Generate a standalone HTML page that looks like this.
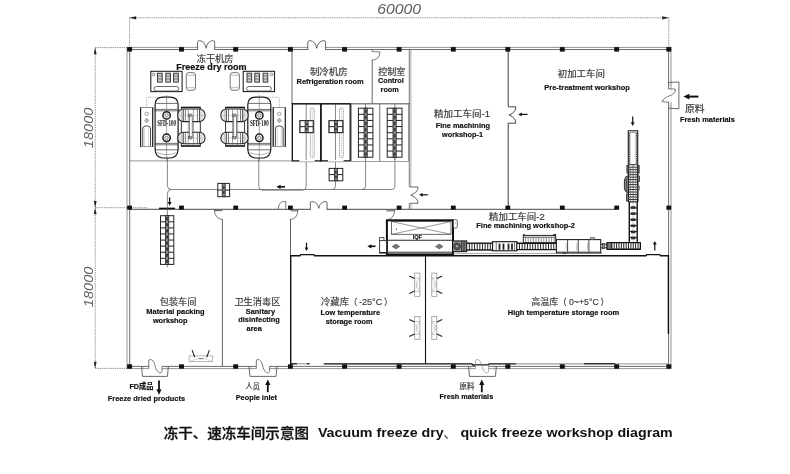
<!DOCTYPE html>
<html lang="zh">
<head>
<meta charset="utf-8">
<title>冻干、速冻车间示意图 Vacuum freeze dry、quick freeze workshop diagram</title>
<style>
html,body{margin:0;padding:0;background:#fff;}
body{width:790px;height:474px;overflow:hidden;}
svg{display:block;will-change:transform;font-family:"Liberation Sans","Noto Sans CJK SC",sans-serif;}
</style>
</head>
<body>
<svg width="790" height="474" viewBox="0 0 790 474">
<rect x="0" y="0" width="790" height="474" fill="#fff"/>
<line x1="129.6" y1="17.8" x2="668.8" y2="17.8" stroke="#6a6a6a" stroke-width="0.7" stroke-dasharray="1.4 0.8"/>
<line x1="129.6" y1="17.8" x2="129.6" y2="47" stroke="#6a6a6a" stroke-width="0.7" stroke-dasharray="1.4 0.8"/>
<line x1="668.8" y1="17.8" x2="668.8" y2="47" stroke="#6a6a6a" stroke-width="0.7" stroke-dasharray="1.4 0.8"/>
<path d="M129.6 17.8 L136.2 16.2 L136.2 19.4 Z" stroke="none" stroke-width="0" fill="#222" />
<path d="M668.8 17.8 L662.2 16.2 L662.2 19.4 Z" stroke="none" stroke-width="0" fill="#222" />
<line x1="95.2" y1="47.6" x2="95.2" y2="368.4" stroke="#6a6a6a" stroke-width="0.7" stroke-dasharray="1.4 0.8"/>
<line x1="95.2" y1="47.6" x2="127" y2="47.6" stroke="#6a6a6a" stroke-width="0.7" stroke-dasharray="1.4 0.8"/>
<line x1="95.2" y1="207.7" x2="147.7" y2="207.7" stroke="#6a6a6a" stroke-width="0.7" stroke-dasharray="1.4 0.8"/>
<line x1="95.2" y1="368.4" x2="127" y2="368.4" stroke="#6a6a6a" stroke-width="0.7" stroke-dasharray="1.4 0.8"/>
<path d="M95.2 47.6 L93.8 54.2 L96.6 54.2 Z" stroke="none" stroke-width="0" fill="#222" />
<path d="M95.2 207.7 L93.8 201.1 L96.6 201.1 Z" stroke="none" stroke-width="0" fill="#222" />
<path d="M95.2 207.7 L93.8 214.29999999999998 L96.6 214.29999999999998 Z" stroke="none" stroke-width="0" fill="#222" />
<path d="M95.2 368.4 L93.8 361.79999999999995 L96.6 361.79999999999995 Z" stroke="none" stroke-width="0" fill="#222" />
<text x="377.2" y="14.04" font-size="14" font-style="italic" fill="#606060" textLength="43.8" lengthAdjust="spacingAndGlyphs" >60000</text>
<text transform="translate(92.6 148.2) rotate(-90)" font-size="13.5" font-style="italic" fill="#606060" textLength="40.6" lengthAdjust="spacingAndGlyphs">18000</text>
<text transform="translate(92.6 307.2) rotate(-90)" font-size="13.5" font-style="italic" fill="#606060" textLength="40.6" lengthAdjust="spacingAndGlyphs">18000</text>
<line x1="127" y1="47.4" x2="671.2" y2="47.4" stroke="#7a7a7a" stroke-width="0.8" />
<line x1="129.6" y1="49.5" x2="668.5" y2="49.5" stroke="#484848" stroke-width="0.8" />
<line x1="127" y1="47.4" x2="127" y2="368.6" stroke="#7a7a7a" stroke-width="0.8" />
<line x1="129.7" y1="49.5" x2="129.7" y2="366.5" stroke="#484848" stroke-width="0.8" />
<line x1="668.6" y1="49.5" x2="668.6" y2="366.5" stroke="#484848" stroke-width="0.8" />
<line x1="671" y1="47.4" x2="671" y2="368.6" stroke="#7a7a7a" stroke-width="0.8" />
<line x1="127" y1="368.6" x2="671" y2="368.6" stroke="#7a7a7a" stroke-width="0.8" />
<line x1="129.7" y1="366.4" x2="668.6" y2="366.4" stroke="#484848" stroke-width="0.8" />
<line x1="129.7" y1="209.3" x2="616.7" y2="209.3" stroke="#333" stroke-width="0.9" />
<line x1="129.8" y1="160.9" x2="292.3" y2="160.9" stroke="#666" stroke-width="0.7" />
<line x1="292" y1="49.5" x2="292" y2="104" stroke="#3c3c3c" stroke-width="0.8" />
<line x1="372.2" y1="60" x2="372.2" y2="103.8" stroke="#3c3c3c" stroke-width="0.8" />
<line x1="292" y1="103.8" x2="410" y2="103.8" stroke="#3c3c3c" stroke-width="0.8" />
<line x1="409.3" y1="49.5" x2="409.3" y2="187" stroke="#3c3c3c" stroke-width="0.7" />
<line x1="410.9" y1="49.5" x2="410.9" y2="187" stroke="#777" stroke-width="0.6" />
<line x1="409.3" y1="203.3" x2="409.3" y2="209.3" stroke="#3c3c3c" stroke-width="0.7" />
<line x1="410.9" y1="203.3" x2="410.9" y2="209.3" stroke="#777" stroke-width="0.6" />
<line x1="508.2" y1="49.5" x2="508.2" y2="106.8" stroke="#3c3c3c" stroke-width="1.0" />
<line x1="508.2" y1="123.2" x2="508.2" y2="209.3" stroke="#3c3c3c" stroke-width="1.0" />
<line x1="222.4" y1="219" x2="222.4" y2="366.4" stroke="#3c3c3c" stroke-width="0.8" />
<line x1="290.5" y1="219" x2="290.5" y2="256" stroke="#3c3c3c" stroke-width="0.8" />
<path d="M290.7 366.4 L290.7 255.7 L300 255.7 L300.8 254.6 L313.8 254.6 L314.6 255.7 L646 255.7 L646.8 254.6 L659.8 254.6 L660.6 255.7 L668.4 255.7 L668.4 334" stroke="#111" stroke-width="1.4" fill="none" />
<line x1="425.5" y1="255.7" x2="425.5" y2="364" stroke="#111" stroke-width="1.1" />
<line x1="290.7" y1="363.8" x2="297" y2="363.8" stroke="#111" stroke-width="1.3" />
<line x1="297" y1="363.8" x2="307" y2="363.8" stroke="#999" stroke-width="1.1" />
<line x1="307" y1="363.8" x2="309.6" y2="363.8" stroke="#111" stroke-width="1.3" />
<path d="M323.7 363.8 L471.8 363.8 L473 365 L488.2 365 L489.4 363.8 L516 363.8" stroke="#111" stroke-width="1.3" fill="none" />
<line x1="516" y1="363.9" x2="584" y2="363.9" stroke="#777" stroke-width="0.9" />
<line x1="584" y1="363.8" x2="615.5" y2="363.8" stroke="#111" stroke-width="1.3" />
<line x1="615.5" y1="363.9" x2="668" y2="363.9" stroke="#777" stroke-width="0.8" />
<rect x="127.15" y="47.1" width="4.9" height="4.5" rx="0" stroke="none" stroke-width="0" fill="#111" />
<rect x="127.15" y="364.3" width="4.9" height="4.4" rx="0" stroke="none" stroke-width="0" fill="#111" />
<rect x="179.05" y="47.1" width="4.9" height="4.5" rx="0" stroke="none" stroke-width="0" fill="#111" />
<rect x="179.05" y="364.3" width="4.9" height="4.4" rx="0" stroke="none" stroke-width="0" fill="#111" />
<rect x="233.25" y="47.1" width="4.9" height="4.5" rx="0" stroke="none" stroke-width="0" fill="#111" />
<rect x="233.25" y="364.3" width="4.9" height="4.4" rx="0" stroke="none" stroke-width="0" fill="#111" />
<rect x="287.95" y="47.1" width="4.9" height="4.5" rx="0" stroke="none" stroke-width="0" fill="#111" />
<rect x="287.95" y="364.3" width="4.9" height="4.4" rx="0" stroke="none" stroke-width="0" fill="#111" />
<rect x="342.15" y="47.1" width="4.9" height="4.5" rx="0" stroke="none" stroke-width="0" fill="#111" />
<rect x="342.15" y="364.3" width="4.9" height="4.4" rx="0" stroke="none" stroke-width="0" fill="#111" />
<rect x="396.65" y="47.1" width="4.9" height="4.5" rx="0" stroke="none" stroke-width="0" fill="#111" />
<rect x="396.65" y="364.3" width="4.9" height="4.4" rx="0" stroke="none" stroke-width="0" fill="#111" />
<rect x="450.85" y="47.1" width="4.9" height="4.5" rx="0" stroke="none" stroke-width="0" fill="#111" />
<rect x="450.85" y="364.3" width="4.9" height="4.4" rx="0" stroke="none" stroke-width="0" fill="#111" />
<rect x="505.35" y="47.1" width="4.9" height="4.5" rx="0" stroke="none" stroke-width="0" fill="#111" />
<rect x="505.35" y="364.3" width="4.9" height="4.4" rx="0" stroke="none" stroke-width="0" fill="#111" />
<rect x="559.85" y="47.1" width="4.9" height="4.5" rx="0" stroke="none" stroke-width="0" fill="#111" />
<rect x="559.85" y="364.3" width="4.9" height="4.4" rx="0" stroke="none" stroke-width="0" fill="#111" />
<rect x="614.25" y="47.1" width="4.9" height="4.5" rx="0" stroke="none" stroke-width="0" fill="#111" />
<rect x="614.25" y="364.3" width="4.9" height="4.4" rx="0" stroke="none" stroke-width="0" fill="#111" />
<rect x="666.35" y="47.1" width="4.9" height="4.5" rx="0" stroke="none" stroke-width="0" fill="#111" />
<rect x="666.35" y="364.3" width="4.9" height="4.4" rx="0" stroke="none" stroke-width="0" fill="#111" />
<rect x="127.2" y="205.6" width="4.8" height="4.1" rx="0" stroke="none" stroke-width="0" fill="#111" />
<rect x="179.1" y="205.6" width="4.8" height="4.1" rx="0" stroke="none" stroke-width="0" fill="#111" />
<rect x="233.3" y="205.6" width="4.8" height="4.1" rx="0" stroke="none" stroke-width="0" fill="#111" />
<rect x="288" y="205.6" width="4.8" height="4.1" rx="0" stroke="none" stroke-width="0" fill="#111" />
<rect x="342.2" y="205.6" width="4.8" height="4.1" rx="0" stroke="none" stroke-width="0" fill="#111" />
<rect x="396.7" y="205.6" width="4.8" height="4.1" rx="0" stroke="none" stroke-width="0" fill="#111" />
<rect x="450.9" y="205.6" width="4.8" height="4.1" rx="0" stroke="none" stroke-width="0" fill="#111" />
<rect x="505.4" y="205.6" width="4.8" height="4.1" rx="0" stroke="none" stroke-width="0" fill="#111" />
<rect x="559.9" y="205.6" width="4.8" height="4.1" rx="0" stroke="none" stroke-width="0" fill="#111" />
<rect x="614.3" y="205.6" width="4.8" height="4.1" rx="0" stroke="none" stroke-width="0" fill="#111" />
<rect x="666.4" y="205.6" width="4.8" height="4.1" rx="0" stroke="none" stroke-width="0" fill="#111" />
<rect x="197.9" y="46.6" width="16.5" height="3.9" fill="#fff"/>
<path d="M197.6 49.7 L197.6 42.1 Q197.6 40.6 199.6 40.6 Q204.95 41.2 206.15 48.3 Q207.35 41.2 212.7 40.6 Q214.7 40.6 214.7 42.1 L214.7 49.7" stroke="#444" stroke-width="0.8" fill="none" />
<rect x="308.1" y="46.6" width="17.2" height="3.9" fill="#fff"/>
<path d="M307.8 49.7 L307.8 42.1 Q307.8 40.6 309.8 40.6 Q315.5 41.2 316.7 48.3 Q317.9 41.2 323.6 40.6 Q325.6 40.6 325.6 42.1 L325.6 49.7" stroke="#444" stroke-width="0.8" fill="none" />
<rect x="310.6" y="206.6" width="16.2" height="3.9" fill="#fff"/>
<path d="M310.3 209.7 L310.3 203 Q310.3 201.5 312.3 201.5 Q317.5 202.1 318.7 208.3 Q319.9 202.1 325.1 201.5 Q327.1 201.5 327.1 203 L327.1 209.7" stroke="#444" stroke-width="0.8" fill="none" />
<rect x="148.7" y="365.6" width="13.3" height="3.8" fill="#fff"/>
<path d="M141.5 366.4 L142.5 376.4 L167.4 376.4 L168.4 366.4" stroke="#444" stroke-width="0.8" fill="none" />
<line x1="143.5" y1="366.4" x2="143.8" y2="369.5" stroke="#888" stroke-width="0.5" />
<line x1="166.4" y1="366.4" x2="166.1" y2="369.5" stroke="#888" stroke-width="0.5" />
<path d="M148.7 368.6 L148.7 361 Q148.7 359.4 150.4 359.5 C154.7 360.2 154.7 366 156.1 369 C157.7 372.6 160 373.6 161.2 372.6 Q162 372 162 370.5 L162 366.4" stroke="#444" stroke-width="0.7" fill="none" />
<rect x="256.3" y="365.6" width="13.3" height="3.8" fill="#fff"/>
<path d="M249 366.4 L250 376.4 L276 376.4 L277 366.4" stroke="#444" stroke-width="0.8" fill="none" />
<line x1="251" y1="366.4" x2="251.3" y2="369.5" stroke="#888" stroke-width="0.5" />
<line x1="275" y1="366.4" x2="274.7" y2="369.5" stroke="#888" stroke-width="0.5" />
<path d="M256.3 368.6 L256.3 361 Q256.3 359.4 258 359.5 C262.3 360.2 262.3 366 263.7 369 C265.3 372.6 267.6 373.6 268.8 372.6 Q269.6 372 269.6 370.5 L269.6 366.4" stroke="#444" stroke-width="0.7" fill="none" />
<rect x="475.6" y="365.6" width="13" height="3.8" fill="#fff"/>
<path d="M468.5 366.4 L469.5 376.4 L495.4 376.4 L496.4 366.4" stroke="#444" stroke-width="0.8" fill="none" />
<line x1="470.5" y1="366.4" x2="470.8" y2="369.5" stroke="#888" stroke-width="0.5" />
<line x1="494.4" y1="366.4" x2="494.1" y2="369.5" stroke="#888" stroke-width="0.5" />
<path d="M475.6 368.6 L475.6 361 Q475.6 359.4 477.3 359.5 C481.6 360.2 481.6 366 483 369 C484.6 372.6 486.6 373.6 487.8 372.6 Q488.6 372 488.6 370.5 L488.6 366.4" stroke="#888" stroke-width="0.7" fill="none" />
<rect x="667.6" y="89" width="4.2" height="13" fill="#fff"/>
<path d="M668.6 82.4 L678.9 82 L678.9 108.8 L668.6 108.2" stroke="#444" stroke-width="0.8" fill="none" />
<line x1="668.6" y1="84.6" x2="671.4" y2="84.8" stroke="#888" stroke-width="0.5" />
<line x1="668.6" y1="106" x2="671.4" y2="105.8" stroke="#888" stroke-width="0.5" />
<path d="M668.6 89 L675.4 89 Q676.4 92.6 671.5 95 Q663 98 662 101.7 L668.6 102.2" stroke="#444" stroke-width="0.7" fill="none" />
<path d="M508.2 106.8 L515.8 106.8 Q516.1 112 509.2 115 Q516.1 118 515.8 123.2 L508.2 123.2" stroke="#444" stroke-width="1.0" fill="none" />
<path d="M409.8 187 L418 187 Q418.3 192.15 410.8 195.15 Q418.3 198.15 418 203.3 L409.8 203.3" stroke="#444" stroke-width="0.8" fill="none" />
<line x1="214.4" y1="210.6" x2="222.4" y2="210.6" stroke="#666" stroke-width="1.1" />
<path d="M214.4 209.3 Q214.6 219 222.4 219.4" stroke="#444" stroke-width="0.7" fill="none" />
<path d="M278.2 209.3 Q278.6 201.8 284 201.5 L285.8 201.5 L285.8 209.3" stroke="#444" stroke-width="0.7" fill="none" />
<line x1="290.5" y1="210.8" x2="298" y2="210.8" stroke="#666" stroke-width="1.1" />
<path d="M298 209.3 Q297.8 219 290.5 219.4" stroke="#444" stroke-width="0.7" fill="none" />
<line x1="386.3" y1="210.8" x2="394.8" y2="210.8" stroke="#666" stroke-width="1.1" />
<path d="M394.8 209.3 Q394.6 217.5 388.3 219.6" stroke="#444" stroke-width="0.7" fill="none" />
<path d="M372.2 60 Q379.6 59.8 380 52 L372.6 51.6" stroke="#444" stroke-width="0.7" fill="none" />
<line x1="372.2" y1="49.5" x2="372.2" y2="52" stroke="#444" stroke-width="0.7" />
<line x1="159" y1="208.4" x2="175.1" y2="208.4" stroke="#111" stroke-width="1.5" />
<line x1="527.6" y1="114.4" x2="521.3" y2="114.4" stroke="#111" stroke-width="1.2" />
<path d="M518.2 114.4 L521.8 112.5 L521.8 116.3 Z" stroke="none" stroke-width="0" fill="#111" />
<line x1="427.8" y1="194.8" x2="422.1" y2="194.8" stroke="#111" stroke-width="1.2" />
<path d="M419 194.8 L422.6 192.9 L422.6 196.7 Z" stroke="none" stroke-width="0" fill="#111" />
<line x1="285" y1="186.8" x2="280.1" y2="186.8" stroke="#111" stroke-width="1.6" />
<path d="M276.4 186.8 L280.6 184.7 L280.6 188.9 Z" stroke="none" stroke-width="0" fill="#111" />
<line x1="169.6" y1="197.4" x2="169.6" y2="202.5" stroke="#111" stroke-width="1.3" />
<path d="M169.6 205.8 L167.6 202 L171.6 202 Z" stroke="none" stroke-width="0" fill="#111" />
<line x1="306.5" y1="242.7" x2="306.5" y2="247.9" stroke="#111" stroke-width="1.2" />
<path d="M306.5 251 L304.6 247.4 L308.4 247.4 Z" stroke="none" stroke-width="0" fill="#111" />
<line x1="632.7" y1="116.6" x2="632.7" y2="122.8" stroke="#111" stroke-width="1.2" />
<path d="M632.7 125.9 L630.8 122.3 L634.6 122.3 Z" stroke="none" stroke-width="0" fill="#111" />
<line x1="654.8" y1="250.4" x2="654.8" y2="244.1" stroke="#111" stroke-width="1.2" />
<path d="M654.8 241 L656.7 244.6 L652.9 244.6 Z" stroke="none" stroke-width="0" fill="#111" />
<line x1="375.5" y1="246.3" x2="371" y2="246.3" stroke="#111" stroke-width="1.6" />
<path d="M367.3 246.3 L371.5 244.2 L371.5 248.4 Z" stroke="none" stroke-width="0" fill="#111" />
<line x1="698.4" y1="96.6" x2="688.9" y2="96.6" stroke="#111" stroke-width="2.0" />
<path d="M683.4 96.6 L689.4 93.7 L689.4 99.5 Z" stroke="none" stroke-width="0" fill="#111" />
<line x1="159" y1="380.6" x2="159" y2="389.7" stroke="#111" stroke-width="1.8" />
<path d="M159 394.8 L156.4 389.2 L161.6 389.2 Z" stroke="none" stroke-width="0" fill="#111" />
<line x1="267.8" y1="392.2" x2="267.8" y2="384.5" stroke="#111" stroke-width="1.8" />
<path d="M267.8 379.4 L270.4 385 L265.2 385 Z" stroke="none" stroke-width="0" fill="#111" />
<line x1="481.8" y1="392.2" x2="481.8" y2="384.5" stroke="#111" stroke-width="1.8" />
<path d="M481.8 379.4 L484.4 385 L479.2 385 Z" stroke="none" stroke-width="0" fill="#111" />
<path d="M167.4 157 L167.4 185.6 Q167.4 189.5 171.4 189.5 L392 189.5 Q394.9 189.5 394.9 186 L394.9 157.2" stroke="#555" stroke-width="0.7" fill="none" />
<path d="M171.4 189.5 Q167.4 189.5 167.4 193.4 L167.4 267.3" stroke="#555" stroke-width="0.7" fill="none" />
<path d="M258.8 157 L258.8 186.4 Q258.8 190.2 262.6 190.2 L302.4 190.2 Q306.2 190.2 306.2 186.4 L306.2 104" stroke="#555" stroke-width="0.7" fill="none" />
<path d="M335.5 104 L335.5 186 Q335.5 189.5 332 189.5" stroke="#555" stroke-width="0.7" fill="none" />
<path d="M365.6 104 L365.6 186 Q365.6 189.5 362 189.5" stroke="#555" stroke-width="0.7" fill="none" />
<line x1="394.9" y1="104" x2="394.9" y2="160" stroke="#555" stroke-width="0.7" />
<rect x="217.8" y="183.4" width="11.8" height="13.3" rx="0" stroke="#222" stroke-width="1.0" fill="#fff" />
<line x1="217.8" y1="190.05" x2="229.6" y2="190.05" stroke="#222" stroke-width="1.0" />
<rect x="222.2" y="183.4" width="3" height="13.3" rx="0" stroke="#222" stroke-width="0.8" fill="#8a8a8a" />
<rect x="222.9" y="186.45" width="1.6" height="2.4" rx="0" stroke="none" stroke-width="0" fill="#333" />
<rect x="222.9" y="191.25" width="1.6" height="2.4" rx="0" stroke="none" stroke-width="0" fill="#333" />
<rect x="329.1" y="168.4" width="13.7" height="12.4" rx="0" stroke="#222" stroke-width="1.0" fill="#fff" />
<line x1="329.1" y1="174.6" x2="342.8" y2="174.6" stroke="#222" stroke-width="1.0" />
<rect x="334.45" y="168.4" width="3" height="12.4" rx="0" stroke="#222" stroke-width="0.8" fill="#8a8a8a" />
<rect x="335.15" y="171" width="1.6" height="2.4" rx="0" stroke="none" stroke-width="0" fill="#333" />
<rect x="335.15" y="175.8" width="1.6" height="2.4" rx="0" stroke="none" stroke-width="0" fill="#333" />
<rect x="300" y="120.7" width="13.2" height="11.9" rx="0" stroke="#222" stroke-width="1.0" fill="#fff" />
<line x1="300" y1="126.65" x2="313.2" y2="126.65" stroke="#222" stroke-width="1.0" />
<rect x="305.1" y="120.7" width="3" height="11.9" rx="0" stroke="#222" stroke-width="0.8" fill="#8a8a8a" />
<rect x="305.8" y="123.05" width="1.6" height="2.4" rx="0" stroke="none" stroke-width="0" fill="#333" />
<rect x="305.8" y="127.85" width="1.6" height="2.4" rx="0" stroke="none" stroke-width="0" fill="#333" />
<rect x="329.1" y="120.7" width="13.7" height="11.9" rx="0" stroke="#222" stroke-width="1.0" fill="#fff" />
<line x1="329.1" y1="126.65" x2="342.8" y2="126.65" stroke="#222" stroke-width="1.0" />
<rect x="334.45" y="120.7" width="3" height="11.9" rx="0" stroke="#222" stroke-width="0.8" fill="#8a8a8a" />
<rect x="335.15" y="123.05" width="1.6" height="2.4" rx="0" stroke="none" stroke-width="0" fill="#333" />
<rect x="335.15" y="127.85" width="1.6" height="2.4" rx="0" stroke="none" stroke-width="0" fill="#333" />
<rect x="160.5" y="215.7" width="13.3" height="48.7" rx="0" stroke="#222" stroke-width="1.0" fill="#fff" />
<line x1="160.5" y1="221.79" x2="173.8" y2="221.79" stroke="#222" stroke-width="1.0" />
<line x1="160.5" y1="227.88" x2="173.8" y2="227.88" stroke="#222" stroke-width="1.0" />
<line x1="160.5" y1="233.96" x2="173.8" y2="233.96" stroke="#222" stroke-width="1.0" />
<line x1="160.5" y1="240.05" x2="173.8" y2="240.05" stroke="#222" stroke-width="1.0" />
<line x1="160.5" y1="246.14" x2="173.8" y2="246.14" stroke="#222" stroke-width="1.0" />
<line x1="160.5" y1="252.22" x2="173.8" y2="252.22" stroke="#222" stroke-width="1.0" />
<line x1="160.5" y1="258.31" x2="173.8" y2="258.31" stroke="#222" stroke-width="1.0" />
<rect x="165.55" y="215.7" width="3.2" height="48.7" rx="0" stroke="#222" stroke-width="0.8" fill="#8a8a8a" />
<rect x="166.25" y="217.2" width="1.8" height="3.09" rx="0" stroke="none" stroke-width="0" fill="#333" />
<rect x="166.25" y="223.29" width="1.8" height="3.09" rx="0" stroke="none" stroke-width="0" fill="#333" />
<rect x="166.25" y="229.38" width="1.8" height="3.09" rx="0" stroke="none" stroke-width="0" fill="#333" />
<rect x="166.25" y="235.46" width="1.8" height="3.09" rx="0" stroke="none" stroke-width="0" fill="#333" />
<rect x="166.25" y="241.55" width="1.8" height="3.09" rx="0" stroke="none" stroke-width="0" fill="#333" />
<rect x="166.25" y="247.64" width="1.8" height="3.09" rx="0" stroke="none" stroke-width="0" fill="#333" />
<rect x="166.25" y="253.72" width="1.8" height="3.09" rx="0" stroke="none" stroke-width="0" fill="#333" />
<rect x="166.25" y="259.81" width="1.8" height="3.09" rx="0" stroke="none" stroke-width="0" fill="#333" />
<rect x="358.4" y="108.2" width="14.5" height="49" rx="0" stroke="#222" stroke-width="1.0" fill="#fff" />
<line x1="358.4" y1="114.33" x2="372.9" y2="114.33" stroke="#222" stroke-width="1.0" />
<line x1="358.4" y1="120.45" x2="372.9" y2="120.45" stroke="#222" stroke-width="1.0" />
<line x1="358.4" y1="126.57" x2="372.9" y2="126.57" stroke="#222" stroke-width="1.0" />
<line x1="358.4" y1="132.7" x2="372.9" y2="132.7" stroke="#222" stroke-width="1.0" />
<line x1="358.4" y1="138.82" x2="372.9" y2="138.82" stroke="#222" stroke-width="1.0" />
<line x1="358.4" y1="144.95" x2="372.9" y2="144.95" stroke="#222" stroke-width="1.0" />
<line x1="358.4" y1="151.07" x2="372.9" y2="151.07" stroke="#222" stroke-width="1.0" />
<rect x="364.05" y="108.2" width="3.2" height="49" rx="0" stroke="#222" stroke-width="0.8" fill="#8a8a8a" />
<rect x="364.75" y="109.7" width="1.8" height="3.12" rx="0" stroke="none" stroke-width="0" fill="#333" />
<rect x="364.75" y="115.83" width="1.8" height="3.12" rx="0" stroke="none" stroke-width="0" fill="#333" />
<rect x="364.75" y="121.95" width="1.8" height="3.12" rx="0" stroke="none" stroke-width="0" fill="#333" />
<rect x="364.75" y="128.07" width="1.8" height="3.12" rx="0" stroke="none" stroke-width="0" fill="#333" />
<rect x="364.75" y="134.2" width="1.8" height="3.12" rx="0" stroke="none" stroke-width="0" fill="#333" />
<rect x="364.75" y="140.32" width="1.8" height="3.12" rx="0" stroke="none" stroke-width="0" fill="#333" />
<rect x="364.75" y="146.45" width="1.8" height="3.12" rx="0" stroke="none" stroke-width="0" fill="#333" />
<rect x="364.75" y="152.57" width="1.8" height="3.12" rx="0" stroke="none" stroke-width="0" fill="#333" />
<rect x="387.2" y="108.2" width="14.8" height="49" rx="0" stroke="#222" stroke-width="1.0" fill="#fff" />
<line x1="387.2" y1="114.33" x2="402" y2="114.33" stroke="#222" stroke-width="1.0" />
<line x1="387.2" y1="120.45" x2="402" y2="120.45" stroke="#222" stroke-width="1.0" />
<line x1="387.2" y1="126.57" x2="402" y2="126.57" stroke="#222" stroke-width="1.0" />
<line x1="387.2" y1="132.7" x2="402" y2="132.7" stroke="#222" stroke-width="1.0" />
<line x1="387.2" y1="138.82" x2="402" y2="138.82" stroke="#222" stroke-width="1.0" />
<line x1="387.2" y1="144.95" x2="402" y2="144.95" stroke="#222" stroke-width="1.0" />
<line x1="387.2" y1="151.07" x2="402" y2="151.07" stroke="#222" stroke-width="1.0" />
<rect x="393" y="108.2" width="3.2" height="49" rx="0" stroke="#222" stroke-width="0.8" fill="#8a8a8a" />
<rect x="393.7" y="109.7" width="1.8" height="3.12" rx="0" stroke="none" stroke-width="0" fill="#333" />
<rect x="393.7" y="115.83" width="1.8" height="3.12" rx="0" stroke="none" stroke-width="0" fill="#333" />
<rect x="393.7" y="121.95" width="1.8" height="3.12" rx="0" stroke="none" stroke-width="0" fill="#333" />
<rect x="393.7" y="128.07" width="1.8" height="3.12" rx="0" stroke="none" stroke-width="0" fill="#333" />
<rect x="393.7" y="134.2" width="1.8" height="3.12" rx="0" stroke="none" stroke-width="0" fill="#333" />
<rect x="393.7" y="140.32" width="1.8" height="3.12" rx="0" stroke="none" stroke-width="0" fill="#333" />
<rect x="393.7" y="146.45" width="1.8" height="3.12" rx="0" stroke="none" stroke-width="0" fill="#333" />
<rect x="393.7" y="152.57" width="1.8" height="3.12" rx="0" stroke="none" stroke-width="0" fill="#333" />
<rect x="292.3" y="103.8" width="28.6" height="57.1" rx="0" stroke="#111" stroke-width="1.3" fill="none" />
<rect x="320.9" y="103.8" width="29.3" height="57.1" rx="0" stroke="#111" stroke-width="1.3" fill="none" />
<rect x="299.4" y="160" width="15.2" height="2" fill="#fff"/>
<rect x="328" y="160" width="15.6" height="2" fill="#fff"/>
<line x1="299.4" y1="161.8" x2="314.6" y2="161.8" stroke="#777" stroke-width="0.6" />
<line x1="328" y1="161.8" x2="343.6" y2="161.8" stroke="#777" stroke-width="0.6" />
<rect x="310.4" y="108.2" width="3.9" height="49.4" rx="1" stroke="#666" stroke-width="0.7" fill="none" stroke-dasharray="1 0.7"/>
<line x1="312.35" y1="108.2" x2="312.35" y2="157.6" stroke="#aaa" stroke-width="0.4" />
<rect x="339.5" y="108.2" width="3.9" height="49.4" rx="1" stroke="#666" stroke-width="0.7" fill="none" stroke-dasharray="1 0.7"/>
<line x1="341.45" y1="108.2" x2="341.45" y2="157.6" stroke="#aaa" stroke-width="0.4" />
<rect x="300" y="120.7" width="13.2" height="11.9" rx="0" stroke="#222" stroke-width="1.0" fill="#fff" />
<line x1="300" y1="126.65" x2="313.2" y2="126.65" stroke="#222" stroke-width="1.0" />
<rect x="305.1" y="120.7" width="3" height="11.9" rx="0" stroke="#222" stroke-width="0.8" fill="#8a8a8a" />
<rect x="305.8" y="123.05" width="1.6" height="2.4" rx="0" stroke="none" stroke-width="0" fill="#333" />
<rect x="305.8" y="127.85" width="1.6" height="2.4" rx="0" stroke="none" stroke-width="0" fill="#333" />
<rect x="329.1" y="120.7" width="13.7" height="11.9" rx="0" stroke="#222" stroke-width="1.0" fill="#fff" />
<line x1="329.1" y1="126.65" x2="342.8" y2="126.65" stroke="#222" stroke-width="1.0" />
<rect x="334.45" y="120.7" width="3" height="11.9" rx="0" stroke="#222" stroke-width="0.8" fill="#8a8a8a" />
<rect x="335.15" y="123.05" width="1.6" height="2.4" rx="0" stroke="none" stroke-width="0" fill="#333" />
<rect x="335.15" y="127.85" width="1.6" height="2.4" rx="0" stroke="none" stroke-width="0" fill="#333" />
<rect x="351.5" y="103.8" width="28.3" height="57.6" rx="0" stroke="#777" stroke-width="0.7" fill="none" />
<rect x="379.8" y="103.8" width="28.8" height="57.6" rx="0" stroke="#777" stroke-width="0.7" fill="none" />
<rect x="150.8" y="71.3" width="31.3" height="20.3" rx="0" stroke="#222" stroke-width="1.1" fill="none" />
<circle cx="153.7" cy="74.5" r="1.4" stroke="#444" stroke-width="0.6" fill="none"/>
<rect x="157.5" y="73.2" width="4.7" height="8.9" rx="0" stroke="#2a2a2a" stroke-width="0.9" fill="#ccc" />
<line x1="157.5" y1="76" x2="162.2" y2="76" stroke="#444" stroke-width="0.6" />
<line x1="157.5" y1="79" x2="162.2" y2="79" stroke="#444" stroke-width="0.6" />
<rect x="165.8" y="73.2" width="4.7" height="8.9" rx="0" stroke="#2a2a2a" stroke-width="0.9" fill="#ccc" />
<line x1="165.8" y1="76" x2="170.5" y2="76" stroke="#444" stroke-width="0.6" />
<line x1="165.8" y1="79" x2="170.5" y2="79" stroke="#444" stroke-width="0.6" />
<rect x="173.6" y="73.2" width="4.7" height="8.9" rx="0" stroke="#2a2a2a" stroke-width="0.9" fill="#ccc" />
<line x1="173.6" y1="76" x2="178.3" y2="76" stroke="#444" stroke-width="0.6" />
<line x1="173.6" y1="79" x2="178.3" y2="79" stroke="#444" stroke-width="0.6" />
<rect x="154" y="86.5" width="24.7" height="4.5" rx="2.2" stroke="#444" stroke-width="0.8" fill="none" />
<rect x="243.2" y="71.3" width="31.3" height="20.3" rx="0" stroke="#222" stroke-width="1.1" fill="none" />
<circle cx="271.6" cy="74.5" r="1.4" stroke="#444" stroke-width="0.6" fill="none"/>
<rect x="263.1" y="73.2" width="4.7" height="8.9" rx="0" stroke="#2a2a2a" stroke-width="0.9" fill="#ccc" />
<line x1="267.8" y1="76" x2="263.1" y2="76" stroke="#444" stroke-width="0.6" />
<line x1="267.8" y1="79" x2="263.1" y2="79" stroke="#444" stroke-width="0.6" />
<rect x="254.8" y="73.2" width="4.7" height="8.9" rx="0" stroke="#2a2a2a" stroke-width="0.9" fill="#ccc" />
<line x1="259.5" y1="76" x2="254.8" y2="76" stroke="#444" stroke-width="0.6" />
<line x1="259.5" y1="79" x2="254.8" y2="79" stroke="#444" stroke-width="0.6" />
<rect x="247" y="73.2" width="4.7" height="8.9" rx="0" stroke="#2a2a2a" stroke-width="0.9" fill="#ccc" />
<line x1="251.7" y1="76" x2="247" y2="76" stroke="#444" stroke-width="0.6" />
<line x1="251.7" y1="79" x2="247" y2="79" stroke="#444" stroke-width="0.6" />
<rect x="246.6" y="86.5" width="24.7" height="4.5" rx="2.2" stroke="#444" stroke-width="0.8" fill="none" />
<rect x="186.3" y="72.6" width="9.2" height="17.7" rx="2.6" stroke="#555" stroke-width="0.8" fill="none" />
<line x1="186.3" y1="75.2" x2="195.5" y2="75.2" stroke="#777" stroke-width="0.5" />
<line x1="186.3" y1="87.7" x2="195.5" y2="87.7" stroke="#777" stroke-width="0.5" />
<rect x="230.2" y="72.6" width="9.2" height="17.7" rx="2.6" stroke="#555" stroke-width="0.8" fill="none" />
<line x1="230.2" y1="75.2" x2="239.4" y2="75.2" stroke="#777" stroke-width="0.5" />
<line x1="230.2" y1="87.7" x2="239.4" y2="87.7" stroke="#777" stroke-width="0.5" />
<path d="M155.1 146 L155.1 105 Q155.1 97.2 163.1 97.2 L170.1 97.2 Q178.1 97.2 178.1 105 L178.1 149.5 Q177.6 157 171.1 158 L162.1 158 Q155.6 157 155.1 149.5 Z" stroke="#1a1a1a" stroke-width="1.2" fill="#fff" />
<path d="M156.6 152.6 Q166.6 156.6 176.6 152.6" stroke="#666" stroke-width="0.5" fill="none" />
<line x1="155.1" y1="103.4" x2="178.1" y2="103.4" stroke="#333" stroke-width="0.7" />
<line x1="155.1" y1="143.4" x2="178.1" y2="143.4" stroke="#333" stroke-width="0.7" />
<line x1="155.1" y1="144.8" x2="178.1" y2="144.8" stroke="#333" stroke-width="0.7" />
<line x1="155.1" y1="149.8" x2="178.1" y2="149.8" stroke="#333" stroke-width="0.7" />
<line x1="154.5" y1="109.4" x2="178.7" y2="109.4" stroke="#333" stroke-width="0.7" />
<line x1="154.5" y1="110.8" x2="178.7" y2="110.8" stroke="#333" stroke-width="0.7" />
<line x1="166.6" y1="95" x2="166.6" y2="160.9" stroke="#555" stroke-width="0.5" />
<circle cx="166.6" cy="115.4" r="3.7" stroke="#1a1a1a" stroke-width="1.5" fill="#fff"/>
<circle cx="166.6" cy="115.4" r="1.7" stroke="#444" stroke-width="0.6" fill="#eee"/>
<circle cx="166.6" cy="137.8" r="3.7" stroke="#1a1a1a" stroke-width="1.5" fill="#fff"/>
<circle cx="166.6" cy="137.8" r="1.7" stroke="#444" stroke-width="0.6" fill="#eee"/>
<text x="157.2" y="125.6" font-size="7.2" font-weight="bold" font-family="Liberation Serif,serif" fill="#111" textLength="18.8" lengthAdjust="spacingAndGlyphs">SFD-100</text>
<rect x="140.6" y="107.6" width="12.1" height="39.1" rx="0" stroke="#666" stroke-width="0.7" fill="none" />
<line x1="140.6" y1="107.6" x2="140.6" y2="146.7" stroke="#222" stroke-width="1.2" />
<line x1="152.7" y1="107.6" x2="152.7" y2="146.7" stroke="#222" stroke-width="1.2" />
<circle cx="146.65" cy="113.9" r="1.7" stroke="#666" stroke-width="0.6" fill="none"/>
<path d="M146.65 118 L148.65 120.4 L146.65 122.8 L144.65 120.4 Z" stroke="#666" stroke-width="0.5" fill="#bbb" />
<path d="M142.75 146 L142.75 129 Q142.75 126 145.65 126 L147.65 126 Q150.55 126 150.55 129 L150.55 146" stroke="#333" stroke-width="0.9" fill="none" />
<line x1="144.65" y1="128" x2="144.65" y2="146" stroke="#999" stroke-width="0.4" />
<line x1="148.65" y1="128" x2="148.65" y2="146" stroke="#999" stroke-width="0.4" />
<path d="M146.65 107.6 L146.65 98.6 Q146.65 97.2 148.15 97.2 L158.6 97.2" stroke="#777" stroke-width="0.6" fill="none" stroke-dasharray="1.2 1"/>
<rect x="181.3" y="107.4" width="19" height="38.6" rx="0" stroke="#222" stroke-width="0.9" fill="none" />
<line x1="181" y1="107.4" x2="200.6" y2="107.4" stroke="#1a1a1a" stroke-width="1.4" />
<line x1="181" y1="146" x2="200.6" y2="146" stroke="#1a1a1a" stroke-width="1.4" />
<rect x="177.8" y="109" width="27.2" height="12.6" rx="5.6" stroke="#222" stroke-width="1.1" fill="#fff" />
<line x1="180" y1="111" x2="180" y2="119.6" stroke="#999" stroke-width="0.4" />
<line x1="202.8" y1="111" x2="202.8" y2="119.6" stroke="#999" stroke-width="0.4" />
<line x1="181.6" y1="109.9" x2="181.6" y2="120.7" stroke="#888" stroke-width="0.5" />
<line x1="201.2" y1="109.9" x2="201.2" y2="120.7" stroke="#888" stroke-width="0.5" />
<line x1="183.2" y1="109.2" x2="183.2" y2="121.4" stroke="#222" stroke-width="0.9" />
<line x1="199.6" y1="109.2" x2="199.6" y2="121.4" stroke="#222" stroke-width="0.9" />
<line x1="185.4" y1="109" x2="185.4" y2="121.6" stroke="#444" stroke-width="0.7" />
<line x1="197.4" y1="109" x2="197.4" y2="121.6" stroke="#444" stroke-width="0.7" />
<line x1="178.8" y1="115.3" x2="204" y2="115.3" stroke="#999" stroke-width="0.4" />
<rect x="177.8" y="132.2" width="27.2" height="11.6" rx="5.6" stroke="#222" stroke-width="1.1" fill="#fff" />
<line x1="180" y1="134.2" x2="180" y2="141.8" stroke="#999" stroke-width="0.4" />
<line x1="202.8" y1="134.2" x2="202.8" y2="141.8" stroke="#999" stroke-width="0.4" />
<line x1="181.6" y1="133.1" x2="181.6" y2="142.9" stroke="#888" stroke-width="0.5" />
<line x1="201.2" y1="133.1" x2="201.2" y2="142.9" stroke="#888" stroke-width="0.5" />
<line x1="183.2" y1="132.4" x2="183.2" y2="143.6" stroke="#222" stroke-width="0.9" />
<line x1="199.6" y1="132.4" x2="199.6" y2="143.6" stroke="#222" stroke-width="0.9" />
<line x1="185.4" y1="132.2" x2="185.4" y2="143.8" stroke="#444" stroke-width="0.7" />
<line x1="197.4" y1="132.2" x2="197.4" y2="143.8" stroke="#444" stroke-width="0.7" />
<line x1="178.8" y1="138" x2="204" y2="138" stroke="#999" stroke-width="0.4" />
<line x1="188.2" y1="107.4" x2="188.2" y2="146" stroke="#666" stroke-width="0.6" />
<line x1="193.4" y1="107.4" x2="193.4" y2="146" stroke="#666" stroke-width="0.6" />
<rect x="189.4" y="115" width="2.8" height="23" rx="0" stroke="#555" stroke-width="0.7" fill="#fff" />
<rect x="188.4" y="114" width="2.8" height="2.6" rx="0" stroke="#444" stroke-width="0.6" fill="none" />
<rect x="188.4" y="136.4" width="2.8" height="2.6" rx="0" stroke="#444" stroke-width="0.6" fill="none" />
<path d="M247.8 146 L247.8 105 Q247.8 97.2 255.8 97.2 L262.8 97.2 Q270.8 97.2 270.8 105 L270.8 149.5 Q270.3 157 263.8 158 L254.8 158 Q248.3 157 247.8 149.5 Z" stroke="#1a1a1a" stroke-width="1.2" fill="#fff" />
<path d="M249.3 152.6 Q259.3 156.6 269.3 152.6" stroke="#666" stroke-width="0.5" fill="none" />
<line x1="247.8" y1="103.4" x2="270.8" y2="103.4" stroke="#333" stroke-width="0.7" />
<line x1="247.8" y1="143.4" x2="270.8" y2="143.4" stroke="#333" stroke-width="0.7" />
<line x1="247.8" y1="144.8" x2="270.8" y2="144.8" stroke="#333" stroke-width="0.7" />
<line x1="247.8" y1="149.8" x2="270.8" y2="149.8" stroke="#333" stroke-width="0.7" />
<line x1="247.2" y1="109.4" x2="271.4" y2="109.4" stroke="#333" stroke-width="0.7" />
<line x1="247.2" y1="110.8" x2="271.4" y2="110.8" stroke="#333" stroke-width="0.7" />
<line x1="259.3" y1="95" x2="259.3" y2="160.9" stroke="#555" stroke-width="0.5" />
<circle cx="259.3" cy="115.4" r="3.7" stroke="#1a1a1a" stroke-width="1.5" fill="#fff"/>
<circle cx="259.3" cy="115.4" r="1.7" stroke="#444" stroke-width="0.6" fill="#eee"/>
<circle cx="259.3" cy="137.8" r="3.7" stroke="#1a1a1a" stroke-width="1.5" fill="#fff"/>
<circle cx="259.3" cy="137.8" r="1.7" stroke="#444" stroke-width="0.6" fill="#eee"/>
<text x="249.9" y="125.6" font-size="7.2" font-weight="bold" font-family="Liberation Serif,serif" fill="#111" textLength="18.8" lengthAdjust="spacingAndGlyphs">SFD-100</text>
<rect x="273.2" y="107.6" width="12.1" height="39.1" rx="0" stroke="#666" stroke-width="0.7" fill="none" />
<line x1="273.2" y1="107.6" x2="273.2" y2="146.7" stroke="#222" stroke-width="1.2" />
<line x1="285.3" y1="107.6" x2="285.3" y2="146.7" stroke="#222" stroke-width="1.2" />
<circle cx="279.25" cy="113.9" r="1.7" stroke="#666" stroke-width="0.6" fill="none"/>
<path d="M279.25 118 L281.25 120.4 L279.25 122.8 L277.25 120.4 Z" stroke="#666" stroke-width="0.5" fill="#bbb" />
<path d="M275.35 146 L275.35 129 Q275.35 126 278.25 126 L280.25 126 Q283.15 126 283.15 129 L283.15 146" stroke="#333" stroke-width="0.9" fill="none" />
<line x1="277.25" y1="128" x2="277.25" y2="146" stroke="#999" stroke-width="0.4" />
<line x1="281.25" y1="128" x2="281.25" y2="146" stroke="#999" stroke-width="0.4" />
<path d="M279.25 107.6 L279.25 98.6 Q279.25 97.2 277.75 97.2 L267.3 97.2" stroke="#777" stroke-width="0.6" fill="none" stroke-dasharray="1.2 1"/>
<rect x="225.6" y="107.4" width="19" height="38.6" rx="0" stroke="#222" stroke-width="0.9" fill="none" />
<line x1="225.3" y1="107.4" x2="244.9" y2="107.4" stroke="#1a1a1a" stroke-width="1.4" />
<line x1="225.3" y1="146" x2="244.9" y2="146" stroke="#1a1a1a" stroke-width="1.4" />
<rect x="220.9" y="109" width="27.2" height="12.6" rx="5.6" stroke="#222" stroke-width="1.1" fill="#fff" />
<line x1="223.1" y1="111" x2="223.1" y2="119.6" stroke="#999" stroke-width="0.4" />
<line x1="245.9" y1="111" x2="245.9" y2="119.6" stroke="#999" stroke-width="0.4" />
<line x1="224.7" y1="109.9" x2="224.7" y2="120.7" stroke="#888" stroke-width="0.5" />
<line x1="244.3" y1="109.9" x2="244.3" y2="120.7" stroke="#888" stroke-width="0.5" />
<line x1="226.3" y1="109.2" x2="226.3" y2="121.4" stroke="#222" stroke-width="0.9" />
<line x1="242.7" y1="109.2" x2="242.7" y2="121.4" stroke="#222" stroke-width="0.9" />
<line x1="228.5" y1="109" x2="228.5" y2="121.6" stroke="#444" stroke-width="0.7" />
<line x1="240.5" y1="109" x2="240.5" y2="121.6" stroke="#444" stroke-width="0.7" />
<line x1="221.9" y1="115.3" x2="247.1" y2="115.3" stroke="#999" stroke-width="0.4" />
<rect x="220.9" y="132.2" width="27.2" height="11.6" rx="5.6" stroke="#222" stroke-width="1.1" fill="#fff" />
<line x1="223.1" y1="134.2" x2="223.1" y2="141.8" stroke="#999" stroke-width="0.4" />
<line x1="245.9" y1="134.2" x2="245.9" y2="141.8" stroke="#999" stroke-width="0.4" />
<line x1="224.7" y1="133.1" x2="224.7" y2="142.9" stroke="#888" stroke-width="0.5" />
<line x1="244.3" y1="133.1" x2="244.3" y2="142.9" stroke="#888" stroke-width="0.5" />
<line x1="226.3" y1="132.4" x2="226.3" y2="143.6" stroke="#222" stroke-width="0.9" />
<line x1="242.7" y1="132.4" x2="242.7" y2="143.6" stroke="#222" stroke-width="0.9" />
<line x1="228.5" y1="132.2" x2="228.5" y2="143.8" stroke="#444" stroke-width="0.7" />
<line x1="240.5" y1="132.2" x2="240.5" y2="143.8" stroke="#444" stroke-width="0.7" />
<line x1="221.9" y1="138" x2="247.1" y2="138" stroke="#999" stroke-width="0.4" />
<line x1="232.5" y1="107.4" x2="232.5" y2="146" stroke="#666" stroke-width="0.6" />
<line x1="237.7" y1="107.4" x2="237.7" y2="146" stroke="#666" stroke-width="0.6" />
<rect x="233.7" y="115" width="2.8" height="23" rx="0" stroke="#555" stroke-width="0.7" fill="#fff" />
<rect x="232.7" y="114" width="2.8" height="2.6" rx="0" stroke="#444" stroke-width="0.6" fill="none" />
<rect x="232.7" y="136.4" width="2.8" height="2.6" rx="0" stroke="#444" stroke-width="0.6" fill="none" />
<rect x="386.9" y="220.3" width="66.1" height="34.1" rx="0" stroke="#111" stroke-width="2.0" fill="#fff" />
<rect x="391.5" y="221.6" width="59.5" height="12.7" rx="0" stroke="#444" stroke-width="0.8" fill="none" />
<line x1="391.5" y1="221.6" x2="451" y2="234.3" stroke="#555" stroke-width="0.6" />
<line x1="391.5" y1="234.3" x2="451" y2="221.6" stroke="#555" stroke-width="0.6" />
<circle cx="396.5" cy="229.2" r="0.6" stroke="none" stroke-width="0" fill="#222"/>
<line x1="387" y1="240.2" x2="453" y2="240.2" stroke="#2a2a2a" stroke-width="1.1" />
<line x1="387" y1="252.2" x2="453" y2="252.2" stroke="#333" stroke-width="1.0" />
<path d="M392.09999999999997 246.5 L395.9 244.1 L399.7 246.5 L395.9 248.9 Z" stroke="#444" stroke-width="0.5" fill="#777" />
<path d="M435.5 246.5 L439.3 244.1 L443.1 246.5 L439.3 248.9 Z" stroke="#444" stroke-width="0.5" fill="#777" />
<text x="412.8" y="239.4" font-size="5.8" font-weight="bold" fill="#111" stroke="#111" stroke-width="0.15" textLength="9.2" lengthAdjust="spacingAndGlyphs">IQF</text>
<rect x="379.6" y="240.6" width="7" height="12.2" rx="0" stroke="#2a2a2a" stroke-width="0.9" fill="#fff" />
<rect x="379.6" y="237.6" width="4.3" height="3" rx="0" stroke="#333" stroke-width="0.8" fill="#fff" />
<line x1="379.4" y1="252.8" x2="387" y2="252.8" stroke="#1a1a1a" stroke-width="1.3" />
<rect x="453.4" y="219.7" width="3.9" height="8.3" rx="1.2" stroke="#444" stroke-width="0.8" fill="#fff" />
<circle cx="455.4" cy="223" r="0.4" stroke="none" stroke-width="0" fill="#333"/>
<line x1="453" y1="253.4" x2="602" y2="253.4" stroke="#666" stroke-width="0.6" />
<rect x="452.6" y="240.9" width="14.1" height="10.7" rx="0" stroke="#111" stroke-width="1.0" fill="#999" />
<circle cx="457" cy="246.3" r="3.4" stroke="#222" stroke-width="0.8" fill="#666"/>
<circle cx="457" cy="246.3" r="1.6" stroke="#222" stroke-width="0.6" fill="#bbb"/>
<line x1="461.6" y1="241.4" x2="461.6" y2="251.2" stroke="#222" stroke-width="0.8" />
<line x1="463.2" y1="241.4" x2="463.2" y2="251.2" stroke="#222" stroke-width="0.8" />
<line x1="464.8" y1="241.4" x2="464.8" y2="251.2" stroke="#222" stroke-width="0.8" />
<rect x="466.7" y="243.2" width="26.3" height="6.8" rx="0" stroke="none" stroke-width="0" fill="#fff" />
<line x1="466.7" y1="243.2" x2="493" y2="243.2" stroke="#111" stroke-width="1.4" />
<line x1="466.7" y1="250" x2="493" y2="250" stroke="#111" stroke-width="1.4" />
<line x1="466.7" y1="243.2" x2="466.7" y2="250" stroke="#222" stroke-width="1.0" />
<line x1="469.33" y1="243.2" x2="469.33" y2="250" stroke="#222" stroke-width="1.0" />
<line x1="471.96" y1="243.2" x2="471.96" y2="250" stroke="#222" stroke-width="1.0" />
<line x1="474.59" y1="243.2" x2="474.59" y2="250" stroke="#222" stroke-width="1.0" />
<line x1="477.22" y1="243.2" x2="477.22" y2="250" stroke="#222" stroke-width="1.0" />
<line x1="479.85" y1="243.2" x2="479.85" y2="250" stroke="#222" stroke-width="1.0" />
<line x1="482.48" y1="243.2" x2="482.48" y2="250" stroke="#222" stroke-width="1.0" />
<line x1="485.11" y1="243.2" x2="485.11" y2="250" stroke="#222" stroke-width="1.0" />
<line x1="487.74" y1="243.2" x2="487.74" y2="250" stroke="#222" stroke-width="1.0" />
<line x1="490.37" y1="243.2" x2="490.37" y2="250" stroke="#222" stroke-width="1.0" />
<line x1="493" y1="243.2" x2="493" y2="250" stroke="#222" stroke-width="1.0" />
<rect x="492.6" y="241.7" width="24.3" height="9.1" rx="0" stroke="#111" stroke-width="1.1" fill="#fff" />
<rect x="498.6" y="243.6" width="1.8" height="6.2" rx="0" stroke="none" stroke-width="0" fill="#222" />
<rect x="502.6" y="243.6" width="1.8" height="6.2" rx="0" stroke="none" stroke-width="0" fill="#222" />
<rect x="507.6" y="243.6" width="1.8" height="6.2" rx="0" stroke="none" stroke-width="0" fill="#222" />
<rect x="511.1" y="243.6" width="1.8" height="6.2" rx="0" stroke="none" stroke-width="0" fill="#222" />
<line x1="496.2" y1="241.7" x2="496.2" y2="250.8" stroke="#333" stroke-width="0.7" />
<line x1="514.6" y1="241.7" x2="514.6" y2="250.8" stroke="#333" stroke-width="0.7" />
<rect x="516.9" y="243.2" width="39.5" height="6.4" rx="0" stroke="none" stroke-width="0" fill="#fff" />
<line x1="516.9" y1="243.2" x2="556.4" y2="243.2" stroke="#111" stroke-width="1.4" />
<line x1="516.9" y1="249.6" x2="556.4" y2="249.6" stroke="#111" stroke-width="1.4" />
<line x1="516.9" y1="243.2" x2="516.9" y2="249.6" stroke="#222" stroke-width="1.0" />
<line x1="519.53" y1="243.2" x2="519.53" y2="249.6" stroke="#222" stroke-width="1.0" />
<line x1="522.17" y1="243.2" x2="522.17" y2="249.6" stroke="#222" stroke-width="1.0" />
<line x1="524.8" y1="243.2" x2="524.8" y2="249.6" stroke="#222" stroke-width="1.0" />
<line x1="527.43" y1="243.2" x2="527.43" y2="249.6" stroke="#222" stroke-width="1.0" />
<line x1="530.07" y1="243.2" x2="530.07" y2="249.6" stroke="#222" stroke-width="1.0" />
<line x1="532.7" y1="243.2" x2="532.7" y2="249.6" stroke="#222" stroke-width="1.0" />
<line x1="535.33" y1="243.2" x2="535.33" y2="249.6" stroke="#222" stroke-width="1.0" />
<line x1="537.97" y1="243.2" x2="537.97" y2="249.6" stroke="#222" stroke-width="1.0" />
<line x1="540.6" y1="243.2" x2="540.6" y2="249.6" stroke="#222" stroke-width="1.0" />
<line x1="543.23" y1="243.2" x2="543.23" y2="249.6" stroke="#222" stroke-width="1.0" />
<line x1="545.87" y1="243.2" x2="545.87" y2="249.6" stroke="#222" stroke-width="1.0" />
<line x1="548.5" y1="243.2" x2="548.5" y2="249.6" stroke="#222" stroke-width="1.0" />
<line x1="551.13" y1="243.2" x2="551.13" y2="249.6" stroke="#222" stroke-width="1.0" />
<line x1="553.77" y1="243.2" x2="553.77" y2="249.6" stroke="#222" stroke-width="1.0" />
<line x1="556.4" y1="243.2" x2="556.4" y2="249.6" stroke="#222" stroke-width="1.0" />
<rect x="523.3" y="235.4" width="32.4" height="7.2" rx="0" stroke="#222" stroke-width="1.0" fill="#fff" />
<line x1="523.3" y1="237.2" x2="555.7" y2="237.2" stroke="#333" stroke-width="0.8" />
<line x1="525.6" y1="237.2" x2="525.6" y2="242.6" stroke="#444" stroke-width="0.6" />
<line x1="528.2" y1="237.2" x2="528.2" y2="242.6" stroke="#444" stroke-width="0.6" />
<line x1="530.8" y1="237.2" x2="530.8" y2="242.6" stroke="#444" stroke-width="0.6" />
<line x1="533.4" y1="237.2" x2="533.4" y2="242.6" stroke="#444" stroke-width="0.6" />
<line x1="536" y1="237.2" x2="536" y2="242.6" stroke="#444" stroke-width="0.6" />
<line x1="538.6" y1="237.2" x2="538.6" y2="242.6" stroke="#444" stroke-width="0.6" />
<line x1="541.2" y1="237.2" x2="541.2" y2="242.6" stroke="#444" stroke-width="0.6" />
<line x1="543.8" y1="237.2" x2="543.8" y2="242.6" stroke="#444" stroke-width="0.6" />
<line x1="546.4" y1="237.2" x2="546.4" y2="242.6" stroke="#444" stroke-width="0.6" />
<line x1="549" y1="237.2" x2="549" y2="242.6" stroke="#444" stroke-width="0.6" />
<line x1="551.6" y1="237.2" x2="551.6" y2="242.6" stroke="#444" stroke-width="0.6" />
<line x1="554.2" y1="237.2" x2="554.2" y2="242.6" stroke="#444" stroke-width="0.6" />
<rect x="553.4" y="234" width="2.5" height="1.6" rx="0" stroke="none" stroke-width="0" fill="#222" />
<rect x="523" y="234.2" width="2" height="1.4" rx="0" stroke="none" stroke-width="0" fill="#333" />
<rect x="556.4" y="239.6" width="44.3" height="13.2" rx="0" stroke="#222" stroke-width="1.1" fill="#fff" />
<line x1="567.6" y1="239.6" x2="567.6" y2="252.8" stroke="#333" stroke-width="0.9" />
<line x1="578.2" y1="239.6" x2="578.2" y2="252.8" stroke="#333" stroke-width="0.9" />
<line x1="588.9" y1="239.6" x2="588.9" y2="252.8" stroke="#333" stroke-width="0.9" />
<line x1="566.2" y1="243" x2="566.2" y2="250" stroke="#888" stroke-width="0.5" />
<line x1="576.8" y1="243" x2="576.8" y2="250" stroke="#888" stroke-width="0.5" />
<line x1="587.5" y1="243" x2="587.5" y2="250" stroke="#888" stroke-width="0.5" />
<rect x="590.6" y="237.8" width="4.1" height="1.8" rx="0" stroke="#333" stroke-width="0.7" fill="#ccc" />
<line x1="556.4" y1="251.4" x2="600.7" y2="251.4" stroke="#666" stroke-width="0.5" />
<rect x="563" y="252.8" width="3" height="1.2" rx="0" stroke="none" stroke-width="0" fill="#333" />
<line x1="600.7" y1="244.3" x2="607.1" y2="244.3" stroke="#222" stroke-width="0.9" />
<line x1="600.7" y1="247.8" x2="607.1" y2="247.8" stroke="#222" stroke-width="0.9" />
<rect x="602.4" y="243.4" width="2" height="5.4" rx="0" stroke="#222" stroke-width="0.6" fill="#888" />
<rect x="607.1" y="242.6" width="33.3" height="6.6" rx="0" stroke="none" stroke-width="0" fill="#fff" />
<line x1="607.1" y1="242.6" x2="640.4" y2="242.6" stroke="#111" stroke-width="1.4" />
<line x1="607.1" y1="249.2" x2="640.4" y2="249.2" stroke="#111" stroke-width="1.4" />
<line x1="607.1" y1="242.6" x2="607.1" y2="249.2" stroke="#222" stroke-width="1.0" />
<line x1="609.48" y1="242.6" x2="609.48" y2="249.2" stroke="#222" stroke-width="1.0" />
<line x1="611.86" y1="242.6" x2="611.86" y2="249.2" stroke="#222" stroke-width="1.0" />
<line x1="614.24" y1="242.6" x2="614.24" y2="249.2" stroke="#222" stroke-width="1.0" />
<line x1="616.61" y1="242.6" x2="616.61" y2="249.2" stroke="#222" stroke-width="1.0" />
<line x1="618.99" y1="242.6" x2="618.99" y2="249.2" stroke="#222" stroke-width="1.0" />
<line x1="621.37" y1="242.6" x2="621.37" y2="249.2" stroke="#222" stroke-width="1.0" />
<line x1="623.75" y1="242.6" x2="623.75" y2="249.2" stroke="#222" stroke-width="1.0" />
<line x1="626.13" y1="242.6" x2="626.13" y2="249.2" stroke="#222" stroke-width="1.0" />
<line x1="628.51" y1="242.6" x2="628.51" y2="249.2" stroke="#222" stroke-width="1.0" />
<line x1="630.89" y1="242.6" x2="630.89" y2="249.2" stroke="#222" stroke-width="1.0" />
<line x1="633.26" y1="242.6" x2="633.26" y2="249.2" stroke="#222" stroke-width="1.0" />
<line x1="635.64" y1="242.6" x2="635.64" y2="249.2" stroke="#222" stroke-width="1.0" />
<line x1="638.02" y1="242.6" x2="638.02" y2="249.2" stroke="#222" stroke-width="1.0" />
<line x1="640.4" y1="242.6" x2="640.4" y2="249.2" stroke="#222" stroke-width="1.0" />
<rect x="607.1" y="242.6" width="4.3" height="6.6" rx="0" stroke="#111" stroke-width="0.8" fill="#777" />
<rect x="628.1" y="130.6" width="9.8" height="34.1" rx="0" stroke="none" stroke-width="0" fill="#fff" />
<path d="M628.3 164.7 L628.3 130.7 L637.7 130.7 L637.7 164.7" stroke="#1a1a1a" stroke-width="1.1" fill="none" />
<path d="M629.9 164.7 L629.9 132.3 L636.1 132.3 L636.1 164.7" stroke="#444" stroke-width="0.6" fill="none" />
<line x1="628.1" y1="133.5" x2="630" y2="133.5" stroke="#333" stroke-width="0.8" />
<line x1="636" y1="133.5" x2="637.9" y2="133.5" stroke="#333" stroke-width="0.8" />
<line x1="628.1" y1="135.6" x2="630" y2="135.6" stroke="#333" stroke-width="0.8" />
<line x1="636" y1="135.6" x2="637.9" y2="135.6" stroke="#333" stroke-width="0.8" />
<line x1="628.1" y1="137.7" x2="630" y2="137.7" stroke="#333" stroke-width="0.8" />
<line x1="636" y1="137.7" x2="637.9" y2="137.7" stroke="#333" stroke-width="0.8" />
<line x1="628.1" y1="139.8" x2="630" y2="139.8" stroke="#333" stroke-width="0.8" />
<line x1="636" y1="139.8" x2="637.9" y2="139.8" stroke="#333" stroke-width="0.8" />
<line x1="628.1" y1="141.9" x2="630" y2="141.9" stroke="#333" stroke-width="0.8" />
<line x1="636" y1="141.9" x2="637.9" y2="141.9" stroke="#333" stroke-width="0.8" />
<line x1="628.1" y1="144" x2="630" y2="144" stroke="#333" stroke-width="0.8" />
<line x1="636" y1="144" x2="637.9" y2="144" stroke="#333" stroke-width="0.8" />
<line x1="628.1" y1="146.1" x2="630" y2="146.1" stroke="#333" stroke-width="0.8" />
<line x1="636" y1="146.1" x2="637.9" y2="146.1" stroke="#333" stroke-width="0.8" />
<line x1="628.1" y1="148.2" x2="630" y2="148.2" stroke="#333" stroke-width="0.8" />
<line x1="636" y1="148.2" x2="637.9" y2="148.2" stroke="#333" stroke-width="0.8" />
<line x1="628.1" y1="150.3" x2="630" y2="150.3" stroke="#333" stroke-width="0.8" />
<line x1="636" y1="150.3" x2="637.9" y2="150.3" stroke="#333" stroke-width="0.8" />
<line x1="628.1" y1="152.4" x2="630" y2="152.4" stroke="#333" stroke-width="0.8" />
<line x1="636" y1="152.4" x2="637.9" y2="152.4" stroke="#333" stroke-width="0.8" />
<line x1="628.1" y1="154.5" x2="630" y2="154.5" stroke="#333" stroke-width="0.8" />
<line x1="636" y1="154.5" x2="637.9" y2="154.5" stroke="#333" stroke-width="0.8" />
<line x1="628.1" y1="156.6" x2="630" y2="156.6" stroke="#333" stroke-width="0.8" />
<line x1="636" y1="156.6" x2="637.9" y2="156.6" stroke="#333" stroke-width="0.8" />
<line x1="628.1" y1="158.7" x2="630" y2="158.7" stroke="#333" stroke-width="0.8" />
<line x1="636" y1="158.7" x2="637.9" y2="158.7" stroke="#333" stroke-width="0.8" />
<line x1="628.1" y1="160.8" x2="630" y2="160.8" stroke="#333" stroke-width="0.8" />
<line x1="636" y1="160.8" x2="637.9" y2="160.8" stroke="#333" stroke-width="0.8" />
<line x1="628.1" y1="162.9" x2="630" y2="162.9" stroke="#333" stroke-width="0.8" />
<line x1="636" y1="162.9" x2="637.9" y2="162.9" stroke="#333" stroke-width="0.8" />
<rect x="628.4" y="164.7" width="9.4" height="37.3" rx="0" stroke="none" stroke-width="0" fill="#fff" />
<line x1="628.4" y1="164.7" x2="628.4" y2="202" stroke="#111" stroke-width="1.4" />
<line x1="637.8" y1="164.7" x2="637.8" y2="202" stroke="#111" stroke-width="1.4" />
<line x1="628.4" y1="164.7" x2="637.8" y2="164.7" stroke="#333" stroke-width="1.0" />
<line x1="628.4" y1="167.19" x2="637.8" y2="167.19" stroke="#333" stroke-width="1.0" />
<line x1="628.4" y1="169.67" x2="637.8" y2="169.67" stroke="#333" stroke-width="1.0" />
<line x1="628.4" y1="172.16" x2="637.8" y2="172.16" stroke="#333" stroke-width="1.0" />
<line x1="628.4" y1="174.65" x2="637.8" y2="174.65" stroke="#333" stroke-width="1.0" />
<line x1="628.4" y1="177.13" x2="637.8" y2="177.13" stroke="#333" stroke-width="1.0" />
<line x1="628.4" y1="179.62" x2="637.8" y2="179.62" stroke="#333" stroke-width="1.0" />
<line x1="628.4" y1="182.11" x2="637.8" y2="182.11" stroke="#333" stroke-width="1.0" />
<line x1="628.4" y1="184.59" x2="637.8" y2="184.59" stroke="#333" stroke-width="1.0" />
<line x1="628.4" y1="187.08" x2="637.8" y2="187.08" stroke="#333" stroke-width="1.0" />
<line x1="628.4" y1="189.57" x2="637.8" y2="189.57" stroke="#333" stroke-width="1.0" />
<line x1="628.4" y1="192.05" x2="637.8" y2="192.05" stroke="#333" stroke-width="1.0" />
<line x1="628.4" y1="194.54" x2="637.8" y2="194.54" stroke="#333" stroke-width="1.0" />
<line x1="628.4" y1="197.03" x2="637.8" y2="197.03" stroke="#333" stroke-width="1.0" />
<line x1="628.4" y1="199.51" x2="637.8" y2="199.51" stroke="#333" stroke-width="1.0" />
<line x1="628.4" y1="202" x2="637.8" y2="202" stroke="#333" stroke-width="1.0" />
<line x1="633.1" y1="164.7" x2="633.1" y2="202" stroke="#444" stroke-width="0.7" />
<line x1="630.6" y1="168" x2="630.6" y2="202" stroke="#555" stroke-width="0.6" />
<line x1="635.8" y1="168" x2="635.8" y2="202" stroke="#555" stroke-width="0.6" />
<rect x="626.9" y="165.5" width="1.9" height="7.5" rx="0" stroke="#222" stroke-width="0.7" fill="#666" />
<rect x="637.4" y="165.5" width="1.8" height="7.5" rx="0" stroke="#222" stroke-width="0.7" fill="#666" />
<path d="M628.4 175.8 L625.8 176.8 L624.4 180 L624.4 189 L626 192 L628.4 192.6 Z" stroke="#111" stroke-width="0.8" fill="#888" />
<line x1="626.4" y1="178.4" x2="626.4" y2="191" stroke="#222" stroke-width="0.6" />
<rect x="637.6" y="176" width="1.8" height="5.4" rx="0" stroke="#222" stroke-width="0.7" fill="#777" />
<rect x="637.6" y="186" width="1.6" height="4" rx="0" stroke="#222" stroke-width="0.6" fill="#999" />
<rect x="626.4" y="194" width="2" height="7" rx="0" stroke="#222" stroke-width="0.7" fill="#777" />
<rect x="629.3" y="202" width="7.9" height="47.2" rx="0" stroke="none" stroke-width="0" fill="#fff" />
<line x1="629.3" y1="202" x2="629.3" y2="249.2" stroke="#111" stroke-width="1.4" />
<line x1="637.2" y1="202" x2="637.2" y2="249.2" stroke="#111" stroke-width="1.4" />
<line x1="629.3" y1="202" x2="637.2" y2="202" stroke="#222" stroke-width="1.0" />
<line x1="629.3" y1="207.9" x2="637.2" y2="207.9" stroke="#222" stroke-width="1.0" />
<line x1="629.3" y1="213.8" x2="637.2" y2="213.8" stroke="#222" stroke-width="1.0" />
<line x1="629.3" y1="219.7" x2="637.2" y2="219.7" stroke="#222" stroke-width="1.0" />
<line x1="629.3" y1="225.6" x2="637.2" y2="225.6" stroke="#222" stroke-width="1.0" />
<line x1="629.3" y1="231.5" x2="637.2" y2="231.5" stroke="#222" stroke-width="1.0" />
<line x1="629.3" y1="237.4" x2="637.2" y2="237.4" stroke="#222" stroke-width="1.0" />
<line x1="629.3" y1="243.3" x2="637.2" y2="243.3" stroke="#222" stroke-width="1.0" />
<line x1="629.3" y1="249.2" x2="637.2" y2="249.2" stroke="#222" stroke-width="1.0" />
<rect x="631.1" y="206.2" width="4.3" height="2.6" rx="0" stroke="none" stroke-width="0" fill="#222" />
<rect x="631.1" y="212.3" width="4.3" height="2.6" rx="0" stroke="none" stroke-width="0" fill="#222" />
<rect x="631.1" y="218.4" width="4.3" height="2.6" rx="0" stroke="none" stroke-width="0" fill="#222" />
<rect x="631.1" y="224.5" width="4.3" height="2.6" rx="0" stroke="none" stroke-width="0" fill="#222" />
<rect x="631.1" y="230.6" width="4.3" height="2.6" rx="0" stroke="none" stroke-width="0" fill="#222" />
<rect x="631.1" y="236.7" width="4.3" height="2.6" rx="0" stroke="none" stroke-width="0" fill="#222" />
<line x1="633.2" y1="202" x2="633.2" y2="243" stroke="#777" stroke-width="0.4" />
<rect x="629.3" y="242.6" width="7.9" height="6.6" rx="0" stroke="none" stroke-width="0" fill="#fff" />
<rect x="607.1" y="242.6" width="33.3" height="6.6" rx="0" stroke="none" stroke-width="0" fill="#fff" />
<line x1="607.1" y1="242.6" x2="640.4" y2="242.6" stroke="#111" stroke-width="1.4" />
<line x1="607.1" y1="249.2" x2="640.4" y2="249.2" stroke="#111" stroke-width="1.4" />
<line x1="607.1" y1="242.6" x2="607.1" y2="249.2" stroke="#222" stroke-width="1.0" />
<line x1="609.48" y1="242.6" x2="609.48" y2="249.2" stroke="#222" stroke-width="1.0" />
<line x1="611.86" y1="242.6" x2="611.86" y2="249.2" stroke="#222" stroke-width="1.0" />
<line x1="614.24" y1="242.6" x2="614.24" y2="249.2" stroke="#222" stroke-width="1.0" />
<line x1="616.61" y1="242.6" x2="616.61" y2="249.2" stroke="#222" stroke-width="1.0" />
<line x1="618.99" y1="242.6" x2="618.99" y2="249.2" stroke="#222" stroke-width="1.0" />
<line x1="621.37" y1="242.6" x2="621.37" y2="249.2" stroke="#222" stroke-width="1.0" />
<line x1="623.75" y1="242.6" x2="623.75" y2="249.2" stroke="#222" stroke-width="1.0" />
<line x1="626.13" y1="242.6" x2="626.13" y2="249.2" stroke="#222" stroke-width="1.0" />
<line x1="628.51" y1="242.6" x2="628.51" y2="249.2" stroke="#222" stroke-width="1.0" />
<line x1="630.89" y1="242.6" x2="630.89" y2="249.2" stroke="#222" stroke-width="1.0" />
<line x1="633.26" y1="242.6" x2="633.26" y2="249.2" stroke="#222" stroke-width="1.0" />
<line x1="635.64" y1="242.6" x2="635.64" y2="249.2" stroke="#222" stroke-width="1.0" />
<line x1="638.02" y1="242.6" x2="638.02" y2="249.2" stroke="#222" stroke-width="1.0" />
<line x1="640.4" y1="242.6" x2="640.4" y2="249.2" stroke="#222" stroke-width="1.0" />
<rect x="607.1" y="242.6" width="4.3" height="6.6" rx="0" stroke="#111" stroke-width="0.8" fill="#777" />
<line x1="640.4" y1="242.6" x2="640.4" y2="249.2" stroke="#111" stroke-width="1.2" />
<rect x="414.7" y="273.1" width="5.2" height="23.2" rx="0" stroke="#888" stroke-width="0.7" fill="#fff" />
<line x1="414.7" y1="278.1" x2="419.9" y2="278.1" stroke="#999" stroke-width="0.5" />
<line x1="414.7" y1="291.3" x2="419.9" y2="291.3" stroke="#999" stroke-width="0.5" />
<path d="M419.9 278.1 L416.3 282.1 L416.3 287.3 L419.9 291.3" stroke="#999" stroke-width="0.5" fill="none" />
<line x1="417.3" y1="282.1" x2="417.3" y2="287.3" stroke="#aaa" stroke-width="0.4" />
<line x1="409.3" y1="276" x2="414.5" y2="278.5" stroke="#222" stroke-width="1.1" />
<line x1="409.3" y1="293.4" x2="414.5" y2="290.9" stroke="#222" stroke-width="1.1" />
<rect x="431.8" y="273.1" width="5" height="23.2" rx="0" stroke="#888" stroke-width="0.7" fill="#fff" />
<line x1="431.8" y1="278.1" x2="436.8" y2="278.1" stroke="#999" stroke-width="0.5" />
<line x1="431.8" y1="291.3" x2="436.8" y2="291.3" stroke="#999" stroke-width="0.5" />
<path d="M431.8 278.1 L435.2 282.1 L435.2 287.3 L431.8 291.3" stroke="#999" stroke-width="0.5" fill="none" />
<line x1="434.3" y1="282.1" x2="434.3" y2="287.3" stroke="#aaa" stroke-width="0.4" />
<line x1="442.2" y1="276" x2="437" y2="278.5" stroke="#222" stroke-width="1.1" />
<line x1="442.2" y1="293.4" x2="437" y2="290.9" stroke="#222" stroke-width="1.1" />
<rect x="414.7" y="316.5" width="5.2" height="22.8" rx="0" stroke="#888" stroke-width="0.7" fill="#fff" />
<line x1="414.7" y1="321.5" x2="419.9" y2="321.5" stroke="#999" stroke-width="0.5" />
<line x1="414.7" y1="334.3" x2="419.9" y2="334.3" stroke="#999" stroke-width="0.5" />
<path d="M419.9 321.5 L416.3 325.5 L416.3 330.3 L419.9 334.3" stroke="#999" stroke-width="0.5" fill="none" />
<line x1="417.3" y1="325.5" x2="417.3" y2="330.3" stroke="#aaa" stroke-width="0.4" />
<line x1="409.3" y1="319.4" x2="414.5" y2="321.9" stroke="#222" stroke-width="1.1" />
<line x1="409.3" y1="336.4" x2="414.5" y2="333.9" stroke="#222" stroke-width="1.1" />
<rect x="431.8" y="316.5" width="5" height="22.8" rx="0" stroke="#888" stroke-width="0.7" fill="#fff" />
<line x1="431.8" y1="321.5" x2="436.8" y2="321.5" stroke="#999" stroke-width="0.5" />
<line x1="431.8" y1="334.3" x2="436.8" y2="334.3" stroke="#999" stroke-width="0.5" />
<path d="M431.8 321.5 L435.2 325.5 L435.2 330.3 L431.8 334.3" stroke="#999" stroke-width="0.5" fill="none" />
<line x1="434.3" y1="325.5" x2="434.3" y2="330.3" stroke="#aaa" stroke-width="0.4" />
<line x1="442.2" y1="319.4" x2="437" y2="321.9" stroke="#222" stroke-width="1.1" />
<line x1="442.2" y1="336.4" x2="437" y2="333.9" stroke="#222" stroke-width="1.1" />
<rect x="189.1" y="355.9" width="23.6" height="5.7" rx="0" stroke="#999" stroke-width="0.7" fill="#fff" />
<path d="M189.1 361.6 Q196 359.2 198 358.6 L204 358.6 Q206 359.2 212.7 361.6" stroke="#aaa" stroke-width="0.5" fill="none" />
<line x1="198.6" y1="358.7" x2="203.4" y2="358.7" stroke="#555" stroke-width="0.8" />
<line x1="192.1" y1="350.1" x2="194.8" y2="357.2" stroke="#222" stroke-width="1.1" />
<line x1="209.4" y1="350.1" x2="206.7" y2="357.2" stroke="#222" stroke-width="1.1" />
<text x="196.8" y="61.55" font-size="8.6" fill="#383838" stroke="#383838" stroke-width="0.18" textLength="36.6" lengthAdjust="spacingAndGlyphs" >冻干机房</text>
<text x="176.2" y="70.29" font-size="8.3" font-weight="bold" fill="#111" stroke="#111" stroke-width="0.18" textLength="70.4" lengthAdjust="spacingAndGlyphs" >Freeze dry room</text>
<text x="309.9" y="75.25" font-size="8.6" fill="#383838" stroke="#383838" stroke-width="0.18" textLength="37.9" lengthAdjust="spacingAndGlyphs" >制冷机房</text>
<text x="296.5" y="84.4" font-size="7.7" font-weight="bold" fill="#111" stroke="#111" stroke-width="0.18" textLength="67.2" lengthAdjust="spacingAndGlyphs" >Refrigeration room</text>
<text x="378.2" y="75.38" font-size="8.6" fill="#383838" stroke="#383838" stroke-width="0.18" textLength="27.1" lengthAdjust="spacingAndGlyphs" >控制室</text>
<text x="378" y="82.7" font-size="7.7" font-weight="bold" fill="#111" stroke="#111" stroke-width="0.18" textLength="25.8" lengthAdjust="spacingAndGlyphs" >Control</text>
<text x="380.6" y="91.9" font-size="7.7" font-weight="bold" fill="#111" stroke="#111" stroke-width="0.18" textLength="18.2" lengthAdjust="spacingAndGlyphs" >room</text>
<text x="434" y="116.55" font-size="8.6" fill="#383838" stroke="#383838" stroke-width="0.18" textLength="56" lengthAdjust="spacingAndGlyphs" >精加工车间-1</text>
<text x="435.7" y="128.47" font-size="7.7" font-weight="bold" fill="#111" stroke="#111" stroke-width="0.18" textLength="54.3" lengthAdjust="spacingAndGlyphs" >Fine machining</text>
<text x="442" y="136.67" font-size="7.7" font-weight="bold" fill="#111" stroke="#111" stroke-width="0.18" textLength="41" lengthAdjust="spacingAndGlyphs" >workshop-1</text>
<text x="557.7" y="77.38" font-size="8.6" fill="#383838" stroke="#383838" stroke-width="0.18" textLength="47.3" lengthAdjust="spacingAndGlyphs" >初加工车间</text>
<text x="544.3" y="90.31" font-size="7.8" font-weight="bold" fill="#111" stroke="#111" stroke-width="0.18" textLength="85.6" lengthAdjust="spacingAndGlyphs" >Pre-treatment workshop</text>
<text x="685" y="112.2" font-size="9.6" fill="#333" stroke="#333" stroke-width="0.18" textLength="19.6" lengthAdjust="spacingAndGlyphs" >原料</text>
<text x="679.9" y="122.27" font-size="7.7" font-weight="bold" fill="#111" stroke="#111" stroke-width="0.18" textLength="54.9" lengthAdjust="spacingAndGlyphs" >Fresh materials</text>
<text x="489" y="219.88" font-size="8.6" fill="#383838" stroke="#383838" stroke-width="0.18" textLength="55.7" lengthAdjust="spacingAndGlyphs" >精加工车间-2</text>
<text x="476.3" y="228.27" font-size="7.7" font-weight="bold" fill="#111" stroke="#111" stroke-width="0.18" textLength="98.7" lengthAdjust="spacingAndGlyphs" >Fine machining workshop-2</text>
<text x="159.7" y="305.08" font-size="8.6" fill="#383838" stroke="#383838" stroke-width="0.18" textLength="36.8" lengthAdjust="spacingAndGlyphs" >包装车间</text>
<text x="146.3" y="313.77" font-size="7.7" font-weight="bold" fill="#111" stroke="#111" stroke-width="0.18" textLength="58.3" lengthAdjust="spacingAndGlyphs" >Material packing</text>
<text x="152.9" y="322.57" font-size="7.7" font-weight="bold" fill="#111" stroke="#111" stroke-width="0.18" textLength="34.7" lengthAdjust="spacingAndGlyphs" >workshop</text>
<text x="234.4" y="305.08" font-size="8.6" fill="#383838" stroke="#383838" stroke-width="0.18" textLength="46" lengthAdjust="spacingAndGlyphs" >卫生消毒区</text>
<text x="245.8" y="314.37" font-size="7.7" font-weight="bold" fill="#111" stroke="#111" stroke-width="0.18" textLength="29.2" lengthAdjust="spacingAndGlyphs" >Sanitary</text>
<text x="238.3" y="322.17" font-size="7.7" font-weight="bold" fill="#111" stroke="#111" stroke-width="0.18" textLength="41.5" lengthAdjust="spacingAndGlyphs" >disinfecting</text>
<text x="246.6" y="330.97" font-size="7.7" font-weight="bold" fill="#111" stroke="#111" stroke-width="0.18" textLength="15.2" lengthAdjust="spacingAndGlyphs" >area</text>
<text y="304.9" font-size="8.6" fill="#3a3a3a" stroke="#3a3a3a" stroke-width="0.15"><tspan x="321" textLength="28" lengthAdjust="spacingAndGlyphs">冷藏库</tspan><tspan x="348.7">（</tspan><tspan x="358.9" font-size="9.6" textLength="23.4" lengthAdjust="spacingAndGlyphs">-25°C</tspan><tspan x="384">）</tspan></text>
<text x="320.6" y="314.97" font-size="7.7" font-weight="bold" fill="#111" stroke="#111" stroke-width="0.18" textLength="59.5" lengthAdjust="spacingAndGlyphs" >Low temperature</text>
<text x="325.7" y="323.77" font-size="7.7" font-weight="bold" fill="#111" stroke="#111" stroke-width="0.18" textLength="46.8" lengthAdjust="spacingAndGlyphs" >storage room</text>
<text y="305.1" font-size="8.6" fill="#3a3a3a" stroke="#3a3a3a" stroke-width="0.15"><tspan x="531.3" textLength="27.1" lengthAdjust="spacingAndGlyphs">高温库</tspan><tspan x="558">（</tspan><tspan x="569" font-size="9.6" textLength="29.7" lengthAdjust="spacingAndGlyphs">0~+5°C</tspan><tspan x="600.5">）</tspan></text>
<text x="507.8" y="314.97" font-size="7.7" font-weight="bold" fill="#111" stroke="#111" stroke-width="0.18" textLength="111.4" lengthAdjust="spacingAndGlyphs" >High temperature storage room</text>
<text x="129.4" y="389.05" font-size="7.7" font-weight="bold" fill="#111" stroke="#111" stroke-width="0.18" textLength="24" lengthAdjust="spacingAndGlyphs" >FD成品</text>
<text x="107.8" y="400.57" font-size="7.7" font-weight="bold" fill="#111" stroke="#111" stroke-width="0.18" textLength="77.2" lengthAdjust="spacingAndGlyphs" >Freeze dried products</text>
<text x="245.6" y="388.71" font-size="7.6" fill="#3a3a3a" stroke="#3a3a3a" stroke-width="0.18" textLength="14.3" lengthAdjust="spacingAndGlyphs" >人员</text>
<text x="235.7" y="399.77" font-size="7.7" font-weight="bold" fill="#111" stroke="#111" stroke-width="0.18" textLength="41.3" lengthAdjust="spacingAndGlyphs" >People inlet</text>
<text x="459.5" y="389.21" font-size="7.6" fill="#3a3a3a" stroke="#3a3a3a" stroke-width="0.18" textLength="14.9" lengthAdjust="spacingAndGlyphs" >原料</text>
<text x="439.4" y="398.77" font-size="7.7" font-weight="bold" fill="#111" stroke="#111" stroke-width="0.18" textLength="53.8" lengthAdjust="spacingAndGlyphs" >Fresh materials</text>
<text x="163.8" y="437.6" font-size="13.4" font-weight="500" fill="#111" stroke="#111" stroke-width="0.3" textLength="145.1" lengthAdjust="spacingAndGlyphs">冻干、速冻车间示意图</text>
<text x="317.9" y="436.9" font-size="13.2" font-weight="bold" fill="#111" textLength="125.9" lengthAdjust="spacingAndGlyphs">Vacuum freeze dry</text>
<text x="443.2" y="437.9" font-size="14.5" fill="#444">、</text>
<text x="460.4" y="436.9" font-size="13.2" font-weight="bold" fill="#111" textLength="212.3" lengthAdjust="spacingAndGlyphs">quick freeze workshop diagram</text>
</svg>
</body>
</html>
